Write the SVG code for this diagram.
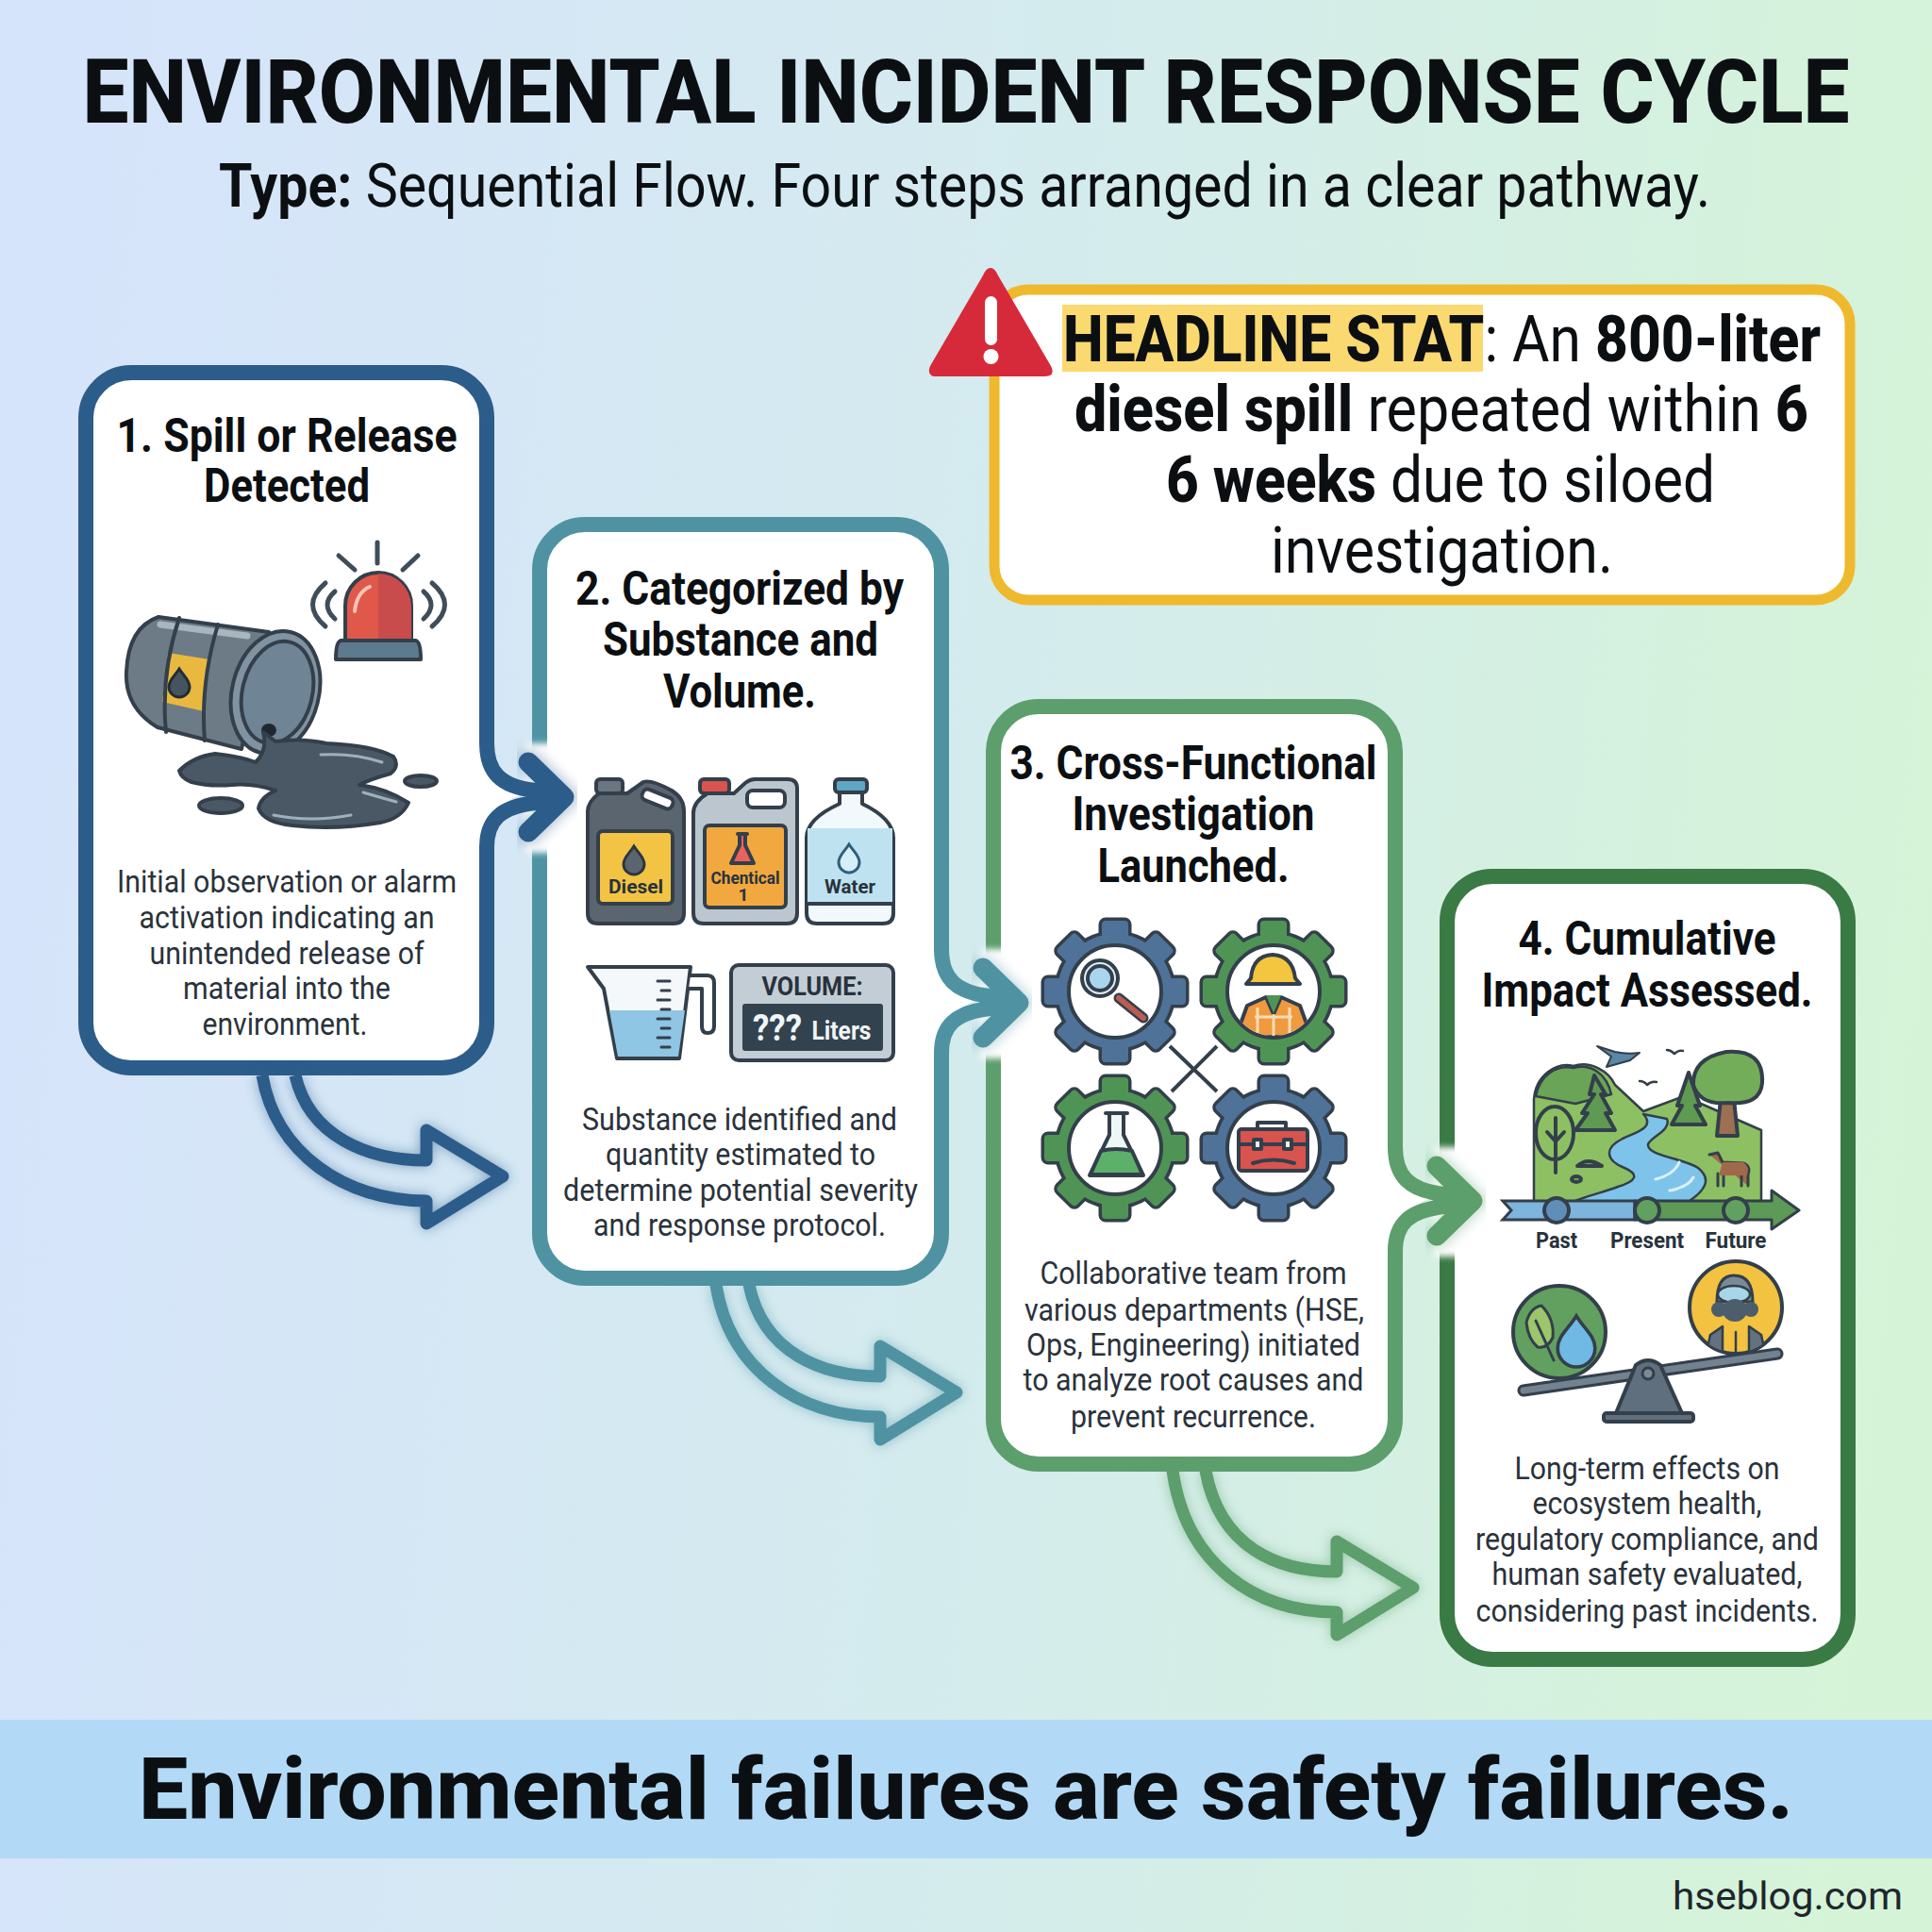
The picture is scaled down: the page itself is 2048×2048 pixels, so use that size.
<svg xmlns="http://www.w3.org/2000/svg" xmlns:xlink="http://www.w3.org/1999/xlink" width="2048" height="2048" viewBox="0 0 2048 2048">
<style>
text{font-family:Roboto,"Liberation Sans",sans-serif;fill:#0c0f12}
.m{text-anchor:middle}
.t{font-size:94px;font-weight:800;text-anchor:middle}
.st{font-size:64px}
.h{font-size:68px;text-anchor:middle}
.b{font-weight:800}
.ct{font-size:50px;font-weight:700;text-anchor:middle}
.cb{font-size:34px;text-anchor:middle;fill:#2a323b}
.ic{font-weight:700;text-anchor:middle;fill:#28323c}
.card{fill:#fff;stroke-width:16}
.ol{stroke:#333f4b;stroke-width:4;stroke-linejoin:round;stroke-linecap:round}
.ln{fill:none;stroke:#3f4d5a;stroke-width:5;stroke-linecap:round}
.bent{fill:none;stroke-width:13;stroke-linejoin:round;stroke-linecap:butt}
</style>
<defs>
<linearGradient id="bg" x1="0" y1="0.45" x2="1" y2="0.55"><stop offset="0" stop-color="#d6e4fb"/><stop offset="0.5" stop-color="#d4ebee"/><stop offset="1" stop-color="#d5f4d7"/></linearGradient>
<filter id="glow" x="-30%" y="-30%" width="160%" height="160%"><feGaussianBlur stdDeviation="7"/></filter>
<filter id="soft" x="-40%" y="-20%" width="180%" height="140%"><feGaussianBlur stdDeviation="3"/></filter>
<g id="side">
<rect x="556" y="788" width="30" height="116" fill="#fff" stroke="none" filter="url(#soft)"/>
<path d="M516,788 C516,818 530,834 568,839 C530,845 516,868 516,898 L500,898 L500,788 Z" fill="#fff" stroke="none"/>
<path d="M560,806 L600,845 L560,884" fill="none" stroke-width="22" stroke-linecap="round" opacity="0.4" filter="url(#glow)"/>
<path d="M516,788 C516,818 530,834 568,838 L596,844 L568,851 C530,855 516,870 516,898" fill="none" stroke-width="16" stroke-linecap="butt" stroke-linejoin="round"/>
<path d="M560,808 L598,845 L560,882" fill="none" stroke-width="21" stroke-linecap="round" stroke-linejoin="round"/>
</g>
<g id="gearshape"><circle r="61"/><rect x="-14" y="-75" width="28" height="24" rx="4"/><rect x="-14" y="-75" width="28" height="24" rx="4" transform="rotate(45)"/><rect x="-14" y="-75" width="28" height="24" rx="4" transform="rotate(90)"/><rect x="-14" y="-75" width="28" height="24" rx="4" transform="rotate(135)"/><rect x="-14" y="-75" width="28" height="24" rx="4" transform="rotate(180)"/><rect x="-14" y="-75" width="28" height="24" rx="4" transform="rotate(225)"/><rect x="-14" y="-75" width="28" height="24" rx="4" transform="rotate(270)"/><rect x="-14" y="-75" width="28" height="24" rx="4" transform="rotate(315)"/></g>
<g id="gear"><use href="#gearshape" fill="#333f4b" stroke="#333f4b" stroke-width="7"/><use href="#gearshape"/><circle r="49" fill="#fff" stroke="#333f4b" stroke-width="4"/></g>
<path id="drop" d="M0,-15 C5,-7 11,-3 11,4 A11,11 0 0 1 -11,4 C-11,-3 -5,-7 0,-15 Z"/>
<clipPath id="cv"><circle cx="1350" cy="1051" r="47"/></clipPath>
<clipPath id="cy"><circle cx="1840" cy="1386" r="48"/></clipPath>
</defs>
<rect width="2048" height="2048" fill="url(#bg)"/>

<g id="title">
<text class="t" transform="translate(1024,130) scale(0.929,1)">ENVIRONMENTAL INCIDENT RESPONSE CYCLE</text>
<text class="st" x="232" y="219" textLength="1581" lengthAdjust="spacingAndGlyphs"><tspan font-weight="700">Type:</tspan> Sequential Flow. Four steps arranged in a clear pathway.</text>
</g>

<g id="headline">
<rect x="1054" y="307" width="907" height="329" rx="36" fill="#fff" stroke="#efb92e" stroke-width="11"/>
<path d="M1050,284 C1054,284 1056,288 1058,292 L1114,388 C1118,396 1114,399 1108,399 L992,399 C986,399 983,395 986,388 L1042,292 C1044,288 1046,284 1050,284 Z" fill="#d62a3a"/>
<rect x="1044" y="314" width="13" height="52" rx="6.500" fill="#fff"/>
<circle cx="1050.500" cy="378" r="8" fill="#fff"/>
<rect x="1126" y="323" width="446" height="71" fill="#fbd971"/>
<text class="h" x="1528.500" y="383" textLength="803" lengthAdjust="spacingAndGlyphs"><tspan class="b">HEADLINE STAT</tspan>: An <tspan class="b">800-liter</tspan></text>
<text class="h" x="1528" y="457" textLength="778" lengthAdjust="spacingAndGlyphs"><tspan class="b">diesel spill</tspan> repeated within <tspan class="b">6</tspan></text>
<text class="h" x="1527" y="532" textLength="582" lengthAdjust="spacingAndGlyphs"><tspan class="b">6 weeks</tspan> due to siloed</text>
<text class="h" x="1528.500" y="607" textLength="363" lengthAdjust="spacingAndGlyphs">investigation.</text>
</g>

<g id="card1">
<rect class="card" x="91" y="395" width="425" height="737" rx="48" stroke="#2c5c8a"/>
<text class="ct" x="304" y="479" textLength="361" lengthAdjust="spacingAndGlyphs">1. Spill or Release</text>
<text class="ct" x="304" y="532" textLength="176" lengthAdjust="spacingAndGlyphs">Detected</text>
<path class="ln" d="M400,575 V597 M359,589 L376,604 M443,589 L427,604 M345,618 Q318,641 345,664 M355,627 Q339,641 355,656 M458,618 Q485,641 458,664 M449,627 Q465,641 449,656"/>
<path d="M366,679 V642 A35,35 0 0 1 436,642 V679 Z" fill="#e0584a" class="ol"/>
<path d="M401,608 A35,35 0 0 1 436,642 V679 H401 Z" fill="#c94c4c"/>
<path d="M376,648 Q378,628 392,622" fill="none" stroke="#f6c3b8" stroke-width="4" stroke-linecap="round"/>
<path d="M362,679 H440 Q446,679 446,699 H356 Q356,679 362,679 Z" fill="#5e7a8e" class="ol"/>
<path class="ol" d="M168,654 L285,670 L256,794 L167,771 Q132,750 134,712 Q136,665 168,654 Z" fill="#6d7b87"/>
<path d="M170,662 L262,674" stroke="#aab6bf" stroke-width="7" fill="none" stroke-linecap="round"/>
<path d="M178,692 L222,699 L216,754 L172,744 Z" fill="#e9b93f"/>
<use href="#drop" x="190" y="724" fill="#46545f" stroke="#222c35" stroke-width="3"/>
<path class="ol" d="M190,655 Q170,715 176,776 M231,662 Q212,725 217,785" fill="none"/>
<ellipse class="ol" cx="292" cy="734" rx="46" ry="66" transform="rotate(14 292 734)" fill="#8193a0"/>
<ellipse class="ol" cx="294" cy="734" rx="37" ry="55" transform="rotate(14 294 734)" fill="#6f8494"/>
<ellipse cx="285" cy="774" rx="8" ry="7" fill="#1f2830"/>
<path class="ol" d="M190,817 Q205,802 228,799 Q255,802 271,808 Q284,795 279,776 L292,786 Q320,782 346,788 Q395,790 417,802 Q424,812 414,820 Q392,826 381,832 Q410,836 433,851 Q425,868 403,872 Q355,880 310,875 Q280,872 274,857 Q276,845 292,838 Q268,830 246,832 Q222,834 203,829 Q192,825 190,817 Z" fill="#4a5866"/>
<path d="M340,800 Q375,798 405,808 M290,864 Q330,872 372,864 M385,840 Q402,845 420,850" fill="none" stroke="#9fb0bd" stroke-width="3" stroke-linecap="round"/>
<ellipse class="ol" cx="234" cy="854" rx="23" ry="8" fill="#4a5866"/>
<ellipse class="ol" cx="446" cy="828" rx="17" ry="6" fill="#4a5866"/>
<text class="cb" x="304" y="946" textLength="360" lengthAdjust="spacingAndGlyphs">Initial observation or alarm</text>
<text class="cb" x="304" y="984" textLength="313" lengthAdjust="spacingAndGlyphs">activation indicating an</text>
<text class="cb" x="304" y="1022" textLength="291" lengthAdjust="spacingAndGlyphs">unintended release of</text>
<text class="cb" x="304" y="1059" textLength="220" lengthAdjust="spacingAndGlyphs">material into the</text>
<text class="cb" x="302" y="1097" textLength="175" lengthAdjust="spacingAndGlyphs">environment.</text>
</g>

<g id="card2">
<rect class="card" x="572" y="556" width="426" height="799" rx="48" stroke="#4f93a3"/>
<text class="ct" x="784" y="641" textLength="348" lengthAdjust="spacingAndGlyphs">2. Categorized by</text>
<text class="ct" x="785" y="695" textLength="292" lengthAdjust="spacingAndGlyphs">Substance and</text>
<text class="ct" x="784" y="750" textLength="162" lengthAdjust="spacingAndGlyphs">Volume.</text>
<rect class="ol" x="632" y="826" width="28" height="15" rx="4" fill="#6b7680"/>
<path class="ol" d="M635,841 H665 L682,829 Q690,826 712,838 Q725,846 725,860 V968 Q725,979 714,979 H634 Q623,979 623,968 V860 Q623,850 635,841 Z" fill="#5a6570"/>
<rect class="ol" x="680" y="841" width="34" height="12" rx="5" transform="rotate(22 697 847)" fill="#fff"/>
<rect class="ol" x="634" y="881" width="79" height="77" rx="5" fill="#f3c443"/>
<use href="#drop" x="672" y="912" fill="#5a6570" stroke="#2c3740" stroke-width="3"/>
<text class="ic" x="674" y="947" font-size="21" textLength="58" lengthAdjust="spacingAndGlyphs">Diesel</text>
<rect class="ol" x="742" y="826" width="31" height="15" rx="4" fill="#d9534f"/>
<path class="ol" d="M750,841 H778 L790,830 Q795,826 800,826 H835 Q845,826 845,836 V968 Q845,979 834,979 H746 Q735,979 735,968 V862 Q735,850 750,841 Z" fill="#bcc6ce"/>
<rect class="ol" x="792" y="838" width="40" height="18" rx="6" fill="#fff"/>
<rect class="ol" x="747" y="875" width="86" height="87" rx="5" fill="#f1a93f"/>
<path class="ol" d="M782,884 H792 M784,884 V896 L775,915 H799 L790,896 V884" fill="#e8635c"/>
<text class="ic" x="790" y="937" font-size="19" textLength="73" lengthAdjust="spacingAndGlyphs">Chentical</text>
<text class="ic" x="788" y="955" font-size="19">1</text>
<rect class="ol" x="885" y="826" width="34" height="14" rx="4" fill="#5ea7c4"/>
<path class="ol" d="M890,840 V852 Q855,868 855,888 V968 Q855,979 866,979 H936 Q947,979 947,968 V888 Q947,868 914,852 V840 Z" fill="#f1f9fc"/>
<path d="M856,878 H946 V958 H856 Z" fill="#bfe2f0"/>
<path class="ol" d="M855,958 H947" fill="none"/>
<use href="#drop" x="900" y="910" fill="#d6eef8" stroke="#2d5f78" stroke-width="3"/>
<text class="ic" x="901" y="947" font-size="21" textLength="54" lengthAdjust="spacingAndGlyphs">Water</text>
<path class="ol" d="M623,1025 H732 L720,1122 H654 L640,1048 Z" fill="#f4f8fa"/>
<path d="M646,1071 H726 L719,1120 H655 Z" fill="#8fc6e4"/>
<path class="ol" d="M732,1034 H750 Q757,1034 757,1042 V1088 Q757,1095 750,1095 Q744,1095 744,1088 V1048 H730" fill="#fff"/>
<path class="ol" style="stroke-width:3" d="M697,1040 H710 M701,1050 H710 M697,1060 H710 M701,1070 H710 M697,1080 H710 M701,1090 H710 M697,1100 H710 M701,1110 H710" fill="none"/>
<rect class="ol" x="775" y="1023" width="172" height="101" rx="8" fill="#c3cdd5"/>
<text class="ic" x="861" y="1055" font-size="28" textLength="107" lengthAdjust="spacingAndGlyphs">VOLUME:</text>
<rect x="787" y="1064" width="149" height="50" rx="3" fill="#33424f"/>
<text class="ic" style="fill:#f1f5f7" x="824" y="1103" font-size="38" textLength="52" lengthAdjust="spacingAndGlyphs">???</text>
<text class="ic" style="fill:#f1f5f7" x="892" y="1102" font-size="27" textLength="63" lengthAdjust="spacingAndGlyphs">Liters</text>
<text class="cb" x="784" y="1198" textLength="334" lengthAdjust="spacingAndGlyphs">Substance identified and</text>
<text class="cb" x="785" y="1235" textLength="286" lengthAdjust="spacingAndGlyphs">quantity estimated to</text>
<text class="cb" x="785" y="1273" textLength="376" lengthAdjust="spacingAndGlyphs">determine potential severity</text>
<text class="cb" x="784" y="1310" textLength="310" lengthAdjust="spacingAndGlyphs">and response protocol.</text>
</g>

<g id="card3">
<rect class="card" x="1053" y="749" width="426" height="803" rx="48" stroke="#5c9e6c"/>
<text class="ct" x="1265" y="826" textLength="389" lengthAdjust="spacingAndGlyphs">3. Cross-Functional</text>
<text class="ct" x="1265" y="880" textLength="257" lengthAdjust="spacingAndGlyphs">Investigation</text>
<text class="ct" x="1265" y="935" textLength="203" lengthAdjust="spacingAndGlyphs">Launched.</text>
<path d="M1240,1109 L1290,1157 M1290,1109 L1242,1157" stroke="#333f4b" stroke-width="4" fill="none"/>
<use href="#gear" x="1182" y="1051" fill="#4f7298"/>
<use href="#gear" x="1350" y="1051" fill="#4f9455"/>
<use href="#gear" x="1182" y="1217" fill="#4f9455"/>
<use href="#gear" x="1350" y="1217" fill="#4f7298"/>
<path d="M1186,1058 L1212,1079" stroke="#333f4b" stroke-width="11" stroke-linecap="round"/>
<path d="M1186,1058 L1212,1079" stroke="#bb5d52" stroke-width="6" stroke-linecap="round"/>
<circle class="ol" cx="1166" cy="1037" r="19" fill="#dfeef6"/>
<circle class="ol" cx="1166" cy="1037" r="13" fill="#a9d6ee"/>
<g clip-path="url(#cv)"><path class="ol" d="M1310,1099 L1322,1066 L1342,1057 L1350,1075 L1358,1057 L1378,1066 L1390,1099 Z" fill="#ef9a3e"/>
<path d="M1330,1078 H1370 M1333,1068 V1095 M1367,1068 V1095 M1350,1075 V1099" stroke="#f8dcb6" stroke-width="3" fill="none"/><path d="M1342,1055 L1358,1055 L1350,1074 Z" fill="#4f9455"/></g>
<path class="ol" d="M1326,1037 Q1328,1013 1349,1012 Q1370,1013 1373,1037 L1378,1043 H1321 Z" fill="#f4c63f"/>
<path class="ol" d="M1172,1180 H1195 M1176,1180 V1203 L1155,1246 H1212 L1191,1203 V1180" fill="#eef7f7"/>
<path class="ol" d="M1167,1220 Q1183,1216 1200,1220 L1211,1245 H1156 Z" fill="#5cb06a"/>
<path class="ol" d="M1333,1199 V1190 H1363 V1199" fill="none"/>
<rect class="ol" x="1313" y="1197" width="73" height="44" rx="3" fill="#d9534f"/>
<path class="ol" d="M1313,1213 H1386 M1328,1233 Q1350,1226 1372,1233" fill="none"/>
<rect class="ol" x="1329" y="1208" width="8" height="10" fill="#eee"/><rect class="ol" x="1361" y="1208" width="8" height="10" fill="#eee"/>
<text class="cb" x="1265" y="1361" textLength="325" lengthAdjust="spacingAndGlyphs">Collaborative team from</text>
<text class="cb" x="1266" y="1400" textLength="360" lengthAdjust="spacingAndGlyphs">various departments (HSE,</text>
<text class="cb" x="1265" y="1437" textLength="354" lengthAdjust="spacingAndGlyphs">Ops, Engineering) initiated</text>
<text class="cb" x="1265" y="1474" textLength="361" lengthAdjust="spacingAndGlyphs">to analyze root causes and</text>
<text class="cb" x="1265" y="1513" textLength="260" lengthAdjust="spacingAndGlyphs">prevent recurrence.</text>
</g>

<g id="card4">
<rect class="card" x="1534" y="929" width="425" height="830" rx="48" stroke="#3a7a45"/>
<text class="ct" x="1746" y="1012" textLength="273" lengthAdjust="spacingAndGlyphs">4. Cumulative</text>
<text class="ct" x="1746" y="1067" textLength="351" lengthAdjust="spacingAndGlyphs">Impact Assessed.</text>
<path class="ol" style="stroke-width:2.500" d="M1626,1165 C1628,1140 1650,1125 1668,1130 C1685,1124 1705,1135 1712,1150 L1742,1178 L1785,1162 L1867,1198 V1276 H1626 Z" fill="#8dc063"/>
<path class="ol" style="stroke-width:2.500" d="M1628,1162 C1632,1140 1650,1128 1668,1132 C1685,1127 1703,1137 1708,1160 L1670,1170 Z" fill="#6aa457"/>
<path class="ol" d="M1670,1198 L1683,1180 H1677 L1690,1160 H1685 L1690,1140 L1702,1160 H1697 L1708,1180 H1702 L1712,1198 Z" fill="#5e9a52"/>
<path class="ol" d="M1772,1192 L1783,1172 H1778 L1790,1137 L1802,1172 H1797 L1808,1192 Z" fill="#5e9a52"/>
<path class="ol" d="M1824,1165 L1820,1204 H1842 L1838,1165 Z" fill="#9c7050"/>
<path class="ol" d="M1795,1150 Q1794,1122 1830,1115 Q1870,1112 1868,1148 Q1866,1172 1832,1169 Q1802,1172 1795,1150 Z" fill="#74ad5a"/>
<ellipse class="ol" cx="1648" cy="1201" rx="20" ry="28" fill="#8dc063"/>
<path class="ol" d="M1649,1185 V1243 M1640,1200 L1649,1210 L1658,1200" fill="none"/>
<path class="ol" style="stroke-width:2.500" d="M1742,1181 C1755,1195 1735,1200 1720,1207 C1700,1217 1702,1230 1722,1238 C1738,1245 1735,1252 1715,1258 C1700,1264 1680,1268 1665,1275 H1788 C1808,1262 1815,1250 1800,1238 C1785,1228 1745,1225 1747,1213 C1750,1205 1772,1198 1767,1186 Z" fill="#7ec4ea"/>
<path d="M1755,1250 Q1775,1245 1780,1232 M1770,1262 Q1790,1258 1795,1248" stroke="#d9f0fb" stroke-width="3" fill="none" stroke-linecap="round"/>
<path class="ol" d="M1672,1236 Q1683,1226 1698,1236 Z" fill="#74ad5a"/>
<ellipse class="ol" cx="1671" cy="1250" rx="5" ry="3" fill="#74ad5a"/>
<path class="ol" style="stroke-width:3" d="M1812,1224 L1821,1222 L1826,1232 L1848,1233 Q1856,1236 1853,1245 V1257 M1846,1245 V1257 M1827,1245 V1257 M1821,1244 V1257" fill="#a0694a"/>
<path d="M1826,1232 H1848 Q1855,1236 1852,1246 H1822 Z" fill="#a0694a"/>
<path class="ol" d="M1693,1109 L1712,1115 Q1725,1118 1738,1116 L1728,1124 L1703,1131 L1708,1120 Z" fill="#5a87a5" style="stroke-width:2"/>
<path class="ol" d="M1767,1113 Q1771,1113 1775,1117 Q1779,1113 1784,1114 M1738,1146 Q1743,1146 1746,1150 Q1750,1146 1756,1147" fill="none" style="stroke-width:2.500"/>
<path d="M1593,1273 H1733 V1293 H1593 L1602,1283 Z" fill="#7db5dd" stroke="#333f4b" stroke-width="3"/>
<path d="M1733,1273 H1878 V1262 L1907,1283 L1878,1303 V1293 H1733 Z" fill="#5d9a55" stroke="#333f4b" stroke-width="3" stroke-linejoin="round"/>
<circle class="ol" cx="1650" cy="1283" r="13" fill="#5f8eb8"/>
<circle class="ol" cx="1746" cy="1283" r="13" fill="#62a05f"/>
<circle class="ol" cx="1840" cy="1283" r="13" fill="#62a05f"/>
<text class="ic" x="1650" y="1323" font-size="24" textLength="44" lengthAdjust="spacingAndGlyphs">Past</text>
<text class="ic" x="1746" y="1323" font-size="24" textLength="78" lengthAdjust="spacingAndGlyphs">Present</text>
<text class="ic" x="1840" y="1323" font-size="24" textLength="65" lengthAdjust="spacingAndGlyphs">Future</text>
<circle class="ol" cx="1653" cy="1412" r="49" fill="#62a05f"/>
<path class="ol" style="stroke-width:3" d="M1618,1402 Q1622,1386 1634,1384 Q1648,1398 1646,1418 Q1640,1430 1630,1428 Q1620,1420 1618,1402 Z M1628,1400 L1647,1442" fill="#9cc56c"/>
<use href="#drop" transform="translate(1671,1422) scale(1.800)" fill="#6fb9e4" stroke="#333f4b" stroke-width="2"/>
<circle class="ol" cx="1840" cy="1386" r="49" fill="#f2c240"/>
<g clip-path="url(#cy)">
<path class="ol" style="stroke-width:2.500" d="M1808,1438 L1813,1415 L1826,1406 L1826,1438 Z M1872,1438 L1867,1415 L1854,1406 L1854,1438 Z" fill="#64727f"/>
<path class="ol" style="stroke-width:2.500" d="M1840,1412 V1438" fill="none"/>
<path d="M1820,1380 Q1820,1352 1838,1352 Q1858,1352 1858,1380 Z" fill="#7a8a97" stroke="#333f4b" stroke-width="3"/>
<ellipse cx="1838" cy="1372" rx="17" ry="9" fill="#a8d6e6" stroke="#333f4b" stroke-width="2.500"/>
<circle cx="1822" cy="1388" r="8" fill="#4c5d6b"/><circle cx="1856" cy="1388" r="8" fill="#4c5d6b"/>
<ellipse cx="1839" cy="1389" rx="13" ry="12" fill="#4c5d6b"/>
</g>
<path d="M1615,1474 L1884,1435" stroke="#333f4b" stroke-width="13" stroke-linecap="round"/>
<path d="M1615,1474 L1884,1435" stroke="#73828f" stroke-width="7" stroke-linecap="round"/>
<path class="ol" d="M1734,1447 Q1747,1437 1760,1447 L1783,1498 H1713 Z" fill="#5f6f7e"/>
<circle class="ol" cx="1747" cy="1456" r="6" fill="#7a8a97" style="stroke-width:3"/>
<rect class="ol" x="1700" y="1498" width="95" height="9" rx="3" fill="#5f6f7e"/>
<text class="cb" x="1746" y="1568" textLength="281" lengthAdjust="spacingAndGlyphs">Long-term effects on</text>
<text class="cb" x="1746" y="1605" textLength="243" lengthAdjust="spacingAndGlyphs">ecosystem health,</text>
<text class="cb" x="1746" y="1643" textLength="364" lengthAdjust="spacingAndGlyphs">regulatory compliance, and</text>
<text class="cb" x="1746" y="1680" textLength="329" lengthAdjust="spacingAndGlyphs">human safety evaluated,</text>
<text class="cb" x="1746" y="1719" textLength="363" lengthAdjust="spacingAndGlyphs">considering past incidents.</text>
</g>

<g id="connectors">
<use href="#side" stroke="#2c5c8a"/>
<use href="#side" transform="translate(482,218)" stroke="#4f93a3"/>
<use href="#side" transform="translate(963,428)" stroke="#5c9e6c"/>
<g stroke="#2c5c8a"><path class="bent" opacity="0.5" filter="url(#glow)" d="M278,1140 C292,1222 365,1273 452,1273 L452,1297 L533,1247 L452,1198 L452,1230 C390,1230 328,1205 313,1140"/><path class="bent" d="M278,1140 C292,1222 365,1273 452,1273 L452,1297 L533,1247 L452,1198 L452,1230 C390,1230 328,1205 313,1140"/></g>
<g stroke="#4f93a3"><path class="bent" opacity="0.5" filter="url(#glow)" d="M759,1362 C773,1451 846,1502 933,1502 L933,1526 L1014,1476 L933,1427 L933,1459 C871,1459 809,1434 794,1362"/><path class="bent" d="M759,1362 C773,1451 846,1502 933,1502 L933,1526 L1014,1476 L933,1427 L933,1459 C871,1459 809,1434 794,1362"/></g>
<g stroke="#5c9e6c"><path class="bent" opacity="0.5" filter="url(#glow)" d="M1243,1559 C1257,1658 1330,1709 1417,1709 L1417,1733 L1498,1683 L1417,1634 L1417,1666 C1355,1666 1293,1641 1278,1559"/><path class="bent" d="M1243,1559 C1257,1658 1330,1709 1417,1709 L1417,1733 L1498,1683 L1417,1634 L1417,1666 C1355,1666 1293,1641 1278,1559"/></g>
</g>

<g id="footer">
<rect x="0" y="1823" width="2048" height="147" fill="#b2daf6"/>
<text class="m" x="1024" y="1928" font-size="90" font-weight="800" textLength="1754" lengthAdjust="spacingAndGlyphs">Environmental failures are safety failures.</text>
<text x="1773" y="2024" font-size="40" textLength="244" lengthAdjust="spacingAndGlyphs" style="fill:#20262c">hseblog.com</text>
</g>
</svg>
